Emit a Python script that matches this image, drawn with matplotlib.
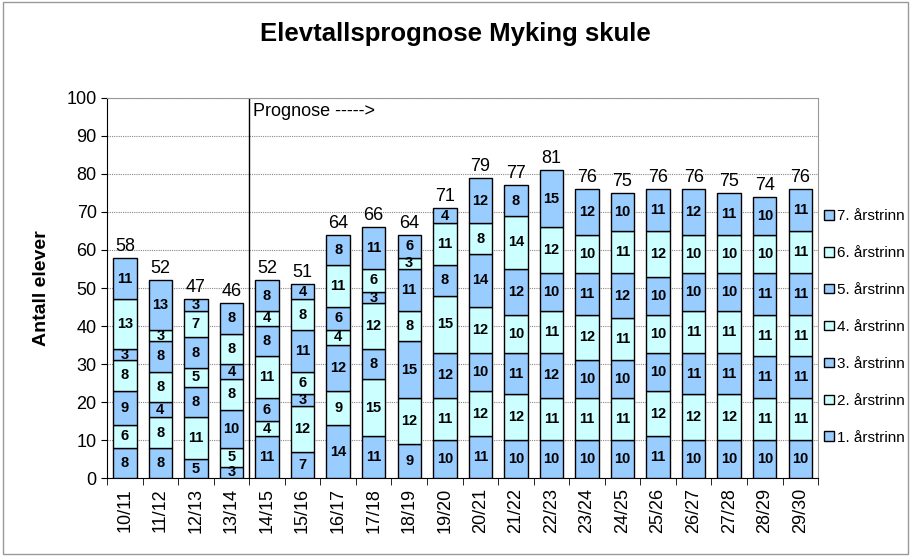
import matplotlib.pyplot as plt
import numpy as np
from matplotlib.patches import Rectangle

plt.rcParams["font.family"] = ["Liberation Sans", "DejaVu Sans"]

years = ["10/11", "11/12", "12/13", "13/14", "14/15", "15/16", "16/17", "17/18", "18/19", "19/20",
         "20/21", "21/22", "22/23", "23/24", "24/25", "25/26", "26/27", "27/28", "28/29", "29/30"]
series_names = ["1. årstrinn", "2. årstrinn", "3. årstrinn", "4. årstrinn",
                "5. årstrinn", "6. årstrinn", "7. årstrinn"]

trinn1 = [8, 8, 5, 3, 11, 7, 14, 11, 9, 10, 11, 10, 10, 10, 10, 11, 10, 10, 10, 10]
trinn2 = [6, 8, 11, 5, 4, 12, 9, 15, 12, 11, 12, 12, 11, 11, 11, 12, 12, 12, 11, 11]
trinn3 = [9, 4, 8, 10, 6, 3, 12, 8, 15, 12, 10, 11, 12, 10, 10, 10, 11, 11, 11, 11]
trinn4 = [8, 8, 5, 8, 11, 6, 4, 12, 8, 15, 12, 10, 11, 12, 11, 10, 11, 11, 11, 11]
trinn5 = [3, 8, 8, 4, 8, 11, 6, 3, 11, 8, 14, 12, 10, 11, 12, 10, 10, 10, 11, 11]
trinn6 = [13, 3, 7, 8, 4, 8, 11, 6, 3, 11, 8, 14, 12, 10, 11, 12, 10, 10, 10, 11]
trinn7 = [11, 13, 3, 8, 8, 4, 8, 11, 6, 4, 12, 8, 15, 12, 10, 11, 12, 11, 10, 11]

data = [trinn1, trinn2, trinn3, trinn4, trinn5, trinn6, trinn7]
dark = "#99CCFF"
light = "#CCFFFF"
colors = [dark, light, dark, light, dark, light, dark]

fig = plt.figure(figsize=(9.11, 5.56), dpi=100)
ax = fig.add_axes([0.1175, 0.140, 0.7805, 0.684])
fig.patches.append(Rectangle((0.003, 0.003), 0.994, 0.994, transform=fig.transFigure,
                             fill=False, edgecolor="#999999", linewidth=1))

x = np.arange(len(years))
bottom = np.zeros(len(years))
bars = []
for values, name, color in zip(data, series_names, colors):
    b = ax.bar(x, values, width=0.66, bottom=bottom, color=color, edgecolor="black",
               linewidth=1, label=name, zorder=3)
    for xi, v, b0 in zip(x, values, bottom):
        ax.text(xi, b0 + v / 2, str(v), ha="center", va="center", fontsize=10.5,
                fontweight="bold", zorder=4)
    bars.append(b)
    bottom = bottom + np.array(values)

for xi, total in zip(x, bottom):
    ax.text(xi, total + 0.8, str(int(total)), ha="center", va="bottom", fontsize=13)

ax.set_xlim(-0.5, len(years) - 0.5)
ax.set_ylim(0, 100)
ax.set_yticks(range(0, 101, 10))
ax.tick_params(axis="y", labelsize=13, length=4)
ax.set_xticks(x)
ax.set_xticklabels(years, rotation=90, fontsize=13)
ax.tick_params(axis="x", which="major", length=0, pad=7)
ax.set_xticks(np.arange(-0.5, len(years), 1), minor=True)
ax.tick_params(axis="x", which="minor", length=5)
ax.yaxis.grid(True, linestyle=(0, (1, 1)), color="#888888", linewidth=0.8, zorder=0)
ax.spines["top"].set_color("#999999")
ax.spines["right"].set_color("#999999")

ax.axvline(3.5, color="black", linewidth=1, zorder=2)
ax.text(3.6, 96.5, "Prognose ----->", ha="left", va="center", fontsize=13)

ax.set_ylabel("Antall elever", fontsize=14, fontweight="bold", labelpad=12)
fig.suptitle("Elevtallsprognose Myking skule", fontsize=18.5, fontweight="bold", y=0.96)

handles = bars[::-1]
fig.legend(handles, series_names[::-1], loc="center left", bbox_to_anchor=(0.905, 0.412),
           frameon=False, fontsize=11, handlelength=0.6, handleheight=0.6,
           handletextpad=0.2, labelspacing=1.5, borderpad=0, borderaxespad=0)

fig.savefig("out.png", dpi=100)
